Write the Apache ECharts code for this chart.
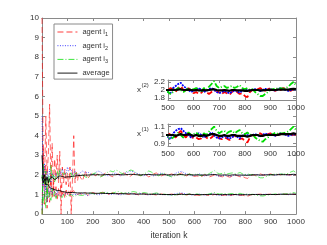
<!DOCTYPE html>
<html><head><meta charset="utf-8">
<script src="https://cdn.jsdelivr.net/npm/echarts@6/dist/echarts.min.js"></script>
<style>html,body{margin:0;padding:0;background:#fff}#c{width:327px;height:245px}</style>
</head><body><div id="c"></div>
<script>
// iteration index k
const K = [0,5,10,15,20,25,30,35,40,45,50,55,60,65,70,75,80,85,90,95,100,105,110,115,120,125,130,135,140,145,150,
160,170,180,190,200,210,220,230,240,250,260,270,280,290,300,310,320,330,340,350,360,370,380,390,400,410,420,430,440,450,460,470,480,490,
500,510,520,530,540,550,560,570,580,590,600,610,620,630,640,650,660,670,680,690,700,710,720,730,740,750,760,770,780,790,800,810,820,830,840,850,860,870,880,890,900,910,920,930,940,950,960,970,980,990,1000];

// component x^(2)
const agent1_x2 = [10,2.5,1.5,5.0,2.0,3.0,5.6,1.5,3.6,1.2,2.8,1.8,3.0,1.6,3.2,0,2.4,1.6,2.3,1.5,2.1,1.4,2.4,0,1.8,4.0,1.6,2.2,1.7,2.1,1.9,
1.7,2.2,1.8,2.0,2.1,1.95,2.05,1.9,2.0,2.1,2.05,1.95,1.9,2.0,2.05,1.95,2.1,2.05,1.9,1.95,2.05,2.1,2.0,1.95,2.05,2.0,1.9,1.95,2.05,2.1,2.0,1.95,2.0,2.05,
2.0,2.05,2.0,1.95,2.05,2.1,2.0,1.95,2.05,1.98,1.92,1.95,1.9,1.93,2.0,1.95,1.9,1.95,2.0,1.98,1.93,1.9,1.95,1.92,1.88,1.95,2.0,1.95,1.9,1.92,1.85,1.82,1.95,2.0,1.98,2.02,2.05,2.0,1.98,2.02,2.05,2.0,1.98,2.03,2.0,2.05,2.02,2.0,1.98,2.02,2.0];
const agent2_x2 = [5.0,1.4,2.6,1.2,2.2,1.7,2.3,1.6,2.1,1.8,1.7,2.1,2.0,1.8,2.2,2.0,2.3,2.1,2.2,2.0,2.4,2.2,2.1,2.3,2.0,2.1,2.2,2.0,2.1,2.05,2.1,
2.2,2.1,2.15,2.05,2.0,2.1,2.2,2.15,2.05,2.0,1.95,2.0,2.05,2.1,2.0,1.95,2.05,2.1,2.15,2.2,2.15,2.1,2.05,2.0,1.95,2.0,2.05,2.0,1.95,2.0,2.05,2.1,2.05,2.0,
1.95,1.92,2.05,2.1,2.15,2.18,2.1,2.05,2.0,1.95,1.98,2.0,2.05,2.0,1.95,1.98,2.02,2.05,2.0,1.95,1.92,1.95,1.98,1.95,1.92,1.95,2.0,1.97,1.93,1.98,2.02,2.0,1.98,2.0,2.02,2.0,1.97,2.0,2.03,2.0,2.02,2.0,1.98,2.02,2.05,2.02,2.0,1.98,2.0,2.02,2.0];
const agent3_x2 = [0,2.6,1.4,2.2,0.8,2.0,1.5,2.5,1.8,2.0,1.6,1.9,2.2,1.8,2.3,2.4,2.2,2.0,1.9,2.1,2.2,2.0,1.9,2.1,1.8,2.0,1.9,2.1,2.0,1.95,2.0,
2.0,1.9,1.85,1.95,2.05,2.1,2.0,1.9,1.95,2.05,2.15,2.2,2.15,2.25,2.2,2.1,2.05,2.15,2.2,2.25,2.2,2.1,2.0,1.95,2.05,2.1,2.2,2.15,2.05,2.0,1.95,2.05,2.1,2.0,
1.95,1.9,1.95,2.0,2.05,2.0,1.95,2.0,2.05,2.0,2.02,2.05,2.0,1.95,2.05,2.0,2.08,2.15,2.22,2.1,2.05,2.08,2.1,2.05,2.08,2.1,2.05,2.08,2.12,2.05,2.02,2.05,2.0,2.02,1.95,1.9,1.85,1.85,1.9,1.95,2.0,2.02,2.05,2.02,2.05,2.03,2.05,2.08,2.15,2.2,2.12];
const average_x2 = [3.0,1.8,2.0,1.7,1.9,1.6,1.8,1.7,1.9,1.8,1.75,1.8,1.85,1.9,1.95,1.9,1.92,1.9,1.88,1.9,1.9,1.92,1.9,1.92,1.93,1.95,1.94,1.95,1.96,1.97,1.97,
1.98,1.99,1.99,2.0,2.01,2.0,2.01,2.0,2.0,2.01,2.02,2.01,2.0,2.01,2.02,2.01,2.0,2.01,2.02,2.03,2.02,2.01,2.0,2.0,2.01,2.01,2.02,2.01,2.0,2.0,2.0,2.01,2.01,2.0,
2.0,2.0,2.01,2.0,2.01,2.02,2.0,2.0,2.01,2.0,1.99,2.0,1.99,1.99,2.0,1.99,2.0,2.01,2.02,2.0,1.99,1.99,2.0,1.99,1.98,2.0,2.0,1.99,1.99,1.99,1.98,1.98,1.99,2.0,2.0,2.0,1.99,1.99,2.0,2.0,2.01,2.0,2.0,2.01,2.01,2.01,2.01,2.01,2.02,2.03,2.02];

// component x^(1)
const agent1_x1 = [0.0,3.5,0.5,2.5,0.3,1.8,0.6,2.0,0.8,1.6,0.9,1.4,0.7,1.3,0.9,1.5,1.0,1.2,0.8,1.3,1.0,1.2,0.9,1.1,1.0,1.2,1.05,1.1,1.0,1.1,1.05,
1.0,1.1,0.95,1.05,1.1,1.05,1.0,1.08,1.12,1.05,1.0,1.05,1.1,1.08,1.02,1.05,1.1,1.05,1.0,1.03,1.06,1.02,0.98,1.02,1.05,1.0,0.98,1.02,1.0,0.97,1.0,1.03,1.0,0.98,
1.0,1.02,1.0,0.97,1.02,1.05,1.0,0.97,1.02,0.99,0.96,0.97,0.95,0.96,1.0,0.97,0.95,0.97,1.0,0.99,0.96,0.95,0.97,0.96,0.94,0.97,1.0,0.97,0.95,0.96,0.93,0.91,0.97,1.0,0.99,1.01,1.02,1.0,0.99,1.01,1.02,1.0,0.99,1.01,1.0,1.02,1.01,1.0,0.99,1.01,1.0];
const agent2_x1 = [0.2,2.5,0.8,1.6,0.6,1.3,0.9,1.4,1.0,1.3,1.1,0.9,1.2,1.0,1.1,0.95,1.05,1.0,1.1,1.05,0.95,1.0,1.05,1.0,0.95,1.0,1.05,1.0,0.98,1.02,1.0,
1.05,1.0,0.95,1.0,1.05,1.02,0.98,1.0,1.05,1.08,1.05,1.0,1.02,1.05,1.0,0.98,1.02,1.05,1.08,1.05,1.02,1.0,1.02,1.05,1.03,1.0,0.98,1.0,1.03,1.05,1.02,1.0,0.98,1.0,
0.97,0.95,1.02,1.05,1.07,1.08,1.05,1.02,1.0,0.97,0.99,1.0,1.02,1.0,0.97,0.99,1.01,1.03,1.0,0.97,0.96,0.97,0.99,0.97,0.96,0.97,1.0,0.98,0.96,0.99,1.01,1.0,0.99,1.0,1.01,1.0,0.98,1.0,1.02,1.0,1.01,1.0,0.99,1.01,1.02,1.01,1.0,0.99,1.0,1.01,1.0];
const agent3_x1 = [2.0,0.5,1.2,0.3,1.5,0.8,1.1,0.7,1.3,0.9,1.2,0.8,1.0,1.1,0.9,1.0,0.85,1.0,0.95,0.9,1.0,0.95,0.9,1.0,0.95,0.9,1.0,0.95,1.0,0.97,1.0,
0.95,1.0,1.05,1.08,1.05,1.0,1.05,1.1,1.08,1.12,1.1,1.05,1.08,1.12,1.15,1.1,1.05,1.08,1.1,1.12,1.15,1.12,1.08,1.05,1.1,1.08,1.05,1.02,1.05,1.08,1.05,1.0,1.02,1.0,
0.98,0.95,0.97,1.0,1.03,1.0,0.97,1.0,1.03,1.0,1.01,1.03,1.0,0.97,1.02,1.0,1.04,1.07,1.1,1.05,1.02,1.04,1.05,1.02,1.04,1.05,1.02,1.04,1.06,1.02,1.01,1.03,1.0,1.01,0.97,0.95,0.93,0.92,0.95,0.97,1.0,1.01,1.03,1.01,1.02,1.02,1.03,1.04,1.07,1.1,1.06];
const average_x1 = [1.9,1.6,1.8,1.5,1.45,1.5,1.35,1.4,1.3,1.3,1.25,1.3,1.2,1.15,1.2,1.15,1.15,1.12,1.13,1.12,1.1,1.1,1.1,1.09,1.1,1.1,1.09,1.1,1.08,1.09,1.08,
1.08,1.08,1.07,1.07,1.07,1.06,1.06,1.06,1.06,1.05,1.05,1.05,1.05,1.04,1.04,1.04,1.04,1.03,1.03,1.03,1.03,1.02,1.02,1.02,1.02,1.02,1.01,1.01,1.01,1.01,1.01,1.0,1.0,1.0,
1.0,1.0,1.0,0.99,1.0,1.01,1.0,1.0,1.01,1.0,0.99,1.0,0.99,0.99,1.0,0.99,1.0,1.01,1.01,1.0,0.99,0.99,1.0,0.99,0.99,1.0,1.0,0.99,0.99,0.99,0.99,0.98,0.99,1.0,1.0,1.0,0.99,0.99,1.0,1.0,1.0,1.0,1.0,1.0,1.01,1.01,1.01,1.01,1.01,1.02,1.01];

const legendNames = ['agent i1','agent i2','agent i3','average'];
const mainXTicks = [0,1000,100];
const mainYTicks = [0,10,1];
const insetXTicks = [500,1000,100];
const inset2YTicks = [1.8,2,2.2];
const inset1YTicks = [0.9,1,1.1];

const FONT = 'Liberation Sans';
const TXT = '#333';
const AX = '#8a8a8a';

function pairs(v){ return K.map((k,i)=>[k,v[i]]); }
const fmt = v => String(v);

const styles = [
  {color:'#ff0000', type:[6,3]},
  {color:'#0000ff', type:[1,1.5]},
  {color:'#00dd00', type:[6,2,1,2]},
  {color:'#000000', type:'solid'}
];
const setsX2 = [agent1_x2, agent2_x2, agent3_x2, average_x2];
const setsX1 = [agent1_x1, agent2_x1, agent3_x1, average_x1];

function mkX(gi, pos, rng, labels){
  return {type:'value', gridIndex:gi, position:pos, min:rng[0], max:rng[1], interval:rng[2],
    axisLine:{show:true, onZero:false, lineStyle:{color:AX, width:1}},
    axisTick:{show:true, inside:true, length:3, lineStyle:{color:AX}},
    axisLabel:{show:labels, color:TXT, fontFamily:FONT, fontSize:8, margin:4, formatter:fmt},
    splitLine:{show:false}};
}
function mkY(gi, pos, min, max, opts){
  const a = {type:'value', gridIndex:gi, position:pos, min:min, max:max,
    axisLine:{show:true, onZero:false, lineStyle:{color:AX, width:1}},
    axisTick:{show:true, inside:true, length:3, lineStyle:{color:AX}},
    axisLabel:{show:pos==='left', color:TXT, fontFamily:FONT, fontSize:8, margin:3, formatter:fmt},
    splitLine:{show:false}};
  return Object.assign(a, opts||{});
}

const series = [];
// main plot
[setsX2, setsX1].forEach(sets=>{
  sets.forEach((s,i)=>{
    series.push({type:'line', name:legendNames[i], xAxisIndex:0, yAxisIndex:0, data:pairs(s),
      symbol:'none', silent:true, z: 2+i, color:styles[i].color,
      itemStyle:{color:styles[i].color},
      lineStyle:{color:styles[i].color, type:styles[i].type, width: i===3?0.9:0.7, opacity: i===3?1:0.85}});
  });
});
// insets
[[setsX2,2],[setsX1,4]].forEach(([sets,ax])=>{
  sets.forEach((s,i)=>{
    series.push({type:'line', name:legendNames[i], xAxisIndex:ax, yAxisIndex:ax, data:pairs(s),
      symbol:'none', silent:true, z: 2+i, clip:true, color:styles[i].color,
      itemStyle:{color:styles[i].color},
      lineStyle:{color:styles[i].color, type: i===3?'solid':(i===1?[2,1]:styles[i].type), width: i===3?2.2:1.8}});
  });
});

const chart = echarts.init(document.getElementById('c'), null, {renderer:'canvas'});
const legendSub = {fontFamily:FONT,fontSize:5.5,color:TXT,padding:[5,0,0,0]};
chart.setOption({
  animation:false,
  backgroundColor:'#fff',
  grid:[
    {left:42, top:18, width:254, height:201, show:true, backgroundColor:'#fff', borderWidth:0},
    {left:168, top:80, width:128, height:20, show:true, backgroundColor:'#fff', borderWidth:0},
    {left:168, top:124, width:128, height:22, show:true, backgroundColor:'#fff', borderWidth:0}
  ],
  xAxis:[
    Object.assign(mkX(0,'bottom',mainXTicks,true), {name:'iteration k', nameLocation:'middle', nameGap:14,
      nameTextStyle:{color:TXT, fontFamily:FONT, fontSize:8.5}}),
    mkX(0,'top',mainXTicks,false),
    mkX(1,'bottom',insetXTicks,true),
    mkX(1,'top',insetXTicks,false),
    mkX(2,'bottom',insetXTicks,true),
    mkX(2,'top',insetXTicks,false)
  ],
  yAxis:[
    mkY(0,'left',mainYTicks[0],mainYTicks[1],{interval:mainYTicks[2]}),
    mkY(0,'right',mainYTicks[0],mainYTicks[1],{interval:mainYTicks[2]}),
    mkY(1,'left',1.75,2.25,{axisLabel:{show:true,customValues:inset2YTicks,color:TXT,fontFamily:FONT,fontSize:8,margin:3,formatter:fmt},axisTick:{show:true,inside:true,length:3,customValues:inset2YTicks,lineStyle:{color:AX}}}),
    mkY(1,'right',1.75,2.25,{axisTick:{show:true,inside:true,length:3,customValues:inset2YTicks,lineStyle:{color:AX}}}),
    mkY(2,'left',0.87,1.13,{axisLabel:{show:true,customValues:inset1YTicks,color:TXT,fontFamily:FONT,fontSize:8,margin:3,formatter:fmt},axisTick:{show:true,inside:true,length:3,customValues:inset1YTicks,lineStyle:{color:AX}}}),
    mkY(2,'right',0.87,1.13,{axisTick:{show:true,inside:true,length:3,customValues:inset1YTicks,lineStyle:{color:AX}}})
  ],
  legend:{
    data:legendNames, orient:'vertical', left:54, top:24,
    itemWidth:20, itemHeight:8, itemGap:4.2,
    padding:[4,3,2,3], borderColor:AX, borderWidth:1, backgroundColor:'#fff',
    itemStyle:{opacity:0},
    lineStyle:{width:0.9},
    formatter:function(n){ return n==='average' ? '{a|average}' : '{a|agent i}{s|'+n.slice(-1)+'}'; },
    textStyle:{color:TXT, fontFamily:FONT, fontSize:7.5,
      rich:{a:{fontFamily:FONT,fontSize:7.5,color:TXT}, s:legendSub}}
  },
  graphic:[
    {type:'text', left:137, top:86, style:{text:'x', font:'8px "Liberation Sans"', fill:TXT}},
    {type:'text', left:141.5, top:82, style:{text:'(2)', font:'6px "Liberation Sans"', fill:TXT}},
    {type:'text', left:137, top:130, style:{text:'x', font:'8px "Liberation Sans"', fill:TXT}},
    {type:'text', left:141.5, top:126, style:{text:'(1)', font:'6px "Liberation Sans"', fill:TXT}}
  ],
  series:series
});
</script></body></html>
